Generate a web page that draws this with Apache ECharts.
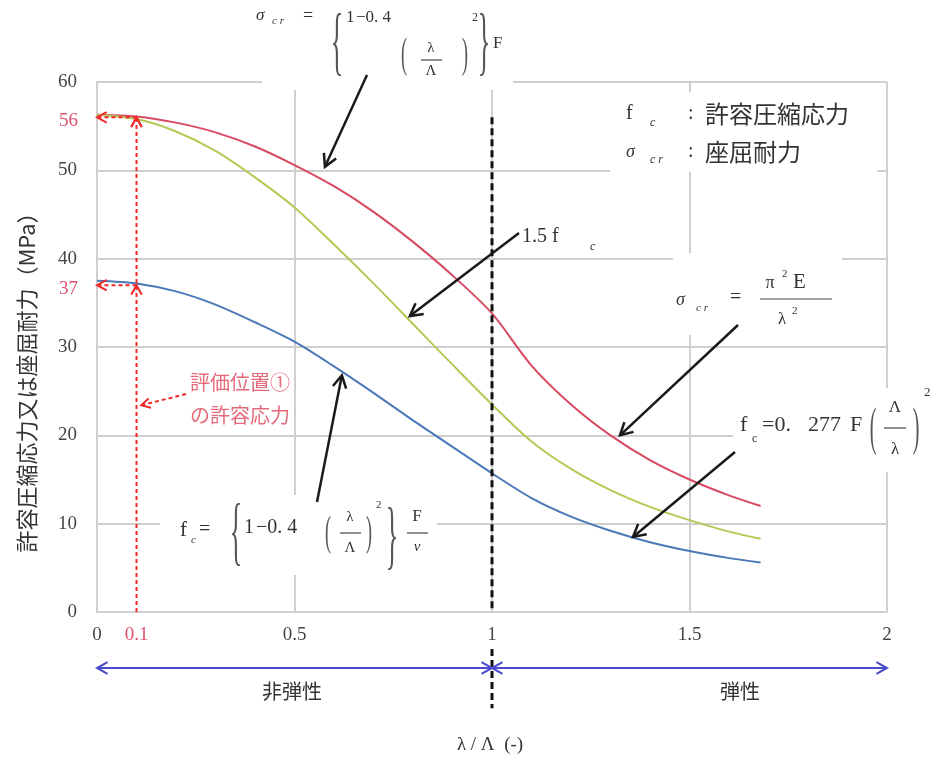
<!DOCTYPE html>
<html>
<head>
<meta charset="utf-8">
<script src="https://cdn.jsdelivr.net/npm/echarts@6/dist/echarts.min.js"></script>
<style>
  html, body { margin: 0; padding: 0; background: #fff; }
  #main { width: 935px; height: 762px; }
</style>
</head>
<body>
<div id="main"></div>
<script>
// λ/Λ and the three curves
var lambdaRatio = [0, 0.1, 0.2, 0.3, 0.4, 0.5, 0.6, 0.7, 0.8, 0.9, 1.0, 1.1, 1.2, 1.3, 1.4, 1.5, 1.6, 1.68];
var sigmaCr = [56.3, 56.1, 55.4, 54.3, 52.7, 50.6, 48.2, 45.3, 41.9, 38.1, 33.8, 27.9, 23.5, 20.0, 17.2, 15.0, 13.2, 12.0];
var fc15 = [56.3, 55.8, 54.4, 52.2, 49.2, 45.8, 41.6, 37.2, 32.6, 28.0, 23.5, 19.3, 16.2, 13.8, 11.9, 10.4, 9.1, 8.3];
var fc = [37.5, 37.2, 36.3, 34.8, 32.8, 30.6, 27.8, 24.8, 21.7, 18.7, 15.7, 12.9, 10.8, 9.2, 7.9, 6.9, 6.1, 5.6];

var xTickLabels = [0, 0.1, 0.5, 1, 1.5, 2];
var evalPoint = 0.1;           // 評価位置①
var evalValues = [56, 37];     // σcr and fc read at λ/Λ = 0.1
var limitRatio = 1;            // 非弾性 / 弾性 border
// arrow tips on the curves [λ/Λ, MPa]
var arrowTips = [[0.577, 50.4], [0.792, 33.5], [0.62, 26.8], [1.324, 20.0], [1.357, 8.5]];

var SERIF = '"Liberation Serif","DejaVu Serif",serif';
var GOTHIC = '"Noto Sans CJK JP","Noto Sans",sans-serif';
var GRID = '#cfcfcf';
var RED_LABEL = '#e0506a';
var RED_DASH = '#ee2b2b';

function pairs(ys) {
  return lambdaRatio.map(function (x, i) { return [x, ys[i]]; });
}

var chart = echarts.init(document.getElementById('main'));

chart.setOption({
  backgroundColor: '#fff',
  animation: false,
  grid: { left: 97, right: 48, top: 82, bottom: 150 },
  xAxis: {
    type: 'value', min: 0, max: 2, interval: 0.5,
    axisLine: { show: true, lineStyle: { color: GRID, width: 2 } },
    axisTick: { show: false },
    splitLine: { show: true, lineStyle: { color: GRID, width: 2 } },
    axisLabel: {
      customValues: xTickLabels,
      margin: 14,
      fontFamily: SERIF, fontSize: 19, color: '#444',
      formatter: function (v) { return v === evalPoint ? '{r|' + v + '}' : String(v); },
      rich: { r: { fontFamily: SERIF, fontSize: 19, color: RED_LABEL } }
    }
  },
  yAxis: {
    type: 'value', min: 0, max: 60, interval: 10,
    axisLine: { show: true, lineStyle: { color: GRID, width: 2 } },
    axisTick: { show: false },
    splitLine: { show: true, lineStyle: { color: GRID, width: 2 } },
    axisLabel: { margin: 20, fontFamily: SERIF, fontSize: 19, color: '#444' }
  },
  series: [
    {
      name: 'σcr', type: 'line', data: pairs(sigmaCr), smooth: 0.3,
      showSymbol: false, lineStyle: { color: '#d84a62', width: 2 }
    },
    {
      name: '1.5fc', type: 'line', data: pairs(fc15), smooth: 0.3,
      showSymbol: false, lineStyle: { color: '#b5c955', width: 2 }
    },
    {
      name: 'fc', type: 'line', data: pairs(fc), smooth: 0.3,
      showSymbol: false, lineStyle: { color: '#4a78b8', width: 2 }
    }
  ]
});

function px(x, y) { return chart.convertToPixel({ gridIndex: 0 }, [x, y]); }

function txt(x, y, s, size, extra) {
  var style = Object.assign({
    text: s, fontSize: size, fontFamily: SERIF, fill: '#333',
    align: 'left', verticalAlign: 'middle'
  }, extra || {});
  var el = { type: 'text', x: x, y: y, z: 40, style: style };
  if (extra && extra.scaleY) { el.scaleY = extra.scaleY; delete style.scaleY; }
  if (extra && extra.rotation) { el.rotation = extra.rotation; delete style.rotation; }
  return el;
}
function box(x1, y1, x2, y2) {
  return { type: 'rect', z: 1, shape: { x: x1, y: y1, width: x2 - x1, height: y2 - y1 }, style: { fill: '#fff' } };
}
function seg(a, b, color, w, dash) {
  return {
    type: 'line', z: 30,
    shape: { x1: a[0], y1: a[1], x2: b[0], y2: b[1] },
    style: { stroke: color, lineWidth: w, lineDash: dash || null }
  };
}
function head(tip, from, len, color, w) {
  var a = Math.atan2(tip[1] - from[1], tip[0] - from[0]);
  var s = 0.5;
  return {
    type: 'polyline', z: 31,
    shape: { points: [
      [tip[0] - len * Math.cos(a - s), tip[1] - len * Math.sin(a - s)], tip,
      [tip[0] - len * Math.cos(a + s), tip[1] - len * Math.sin(a + s)]
    ] },
    style: { stroke: color, lineWidth: w, fill: 'none' }
  };
}
function arrow(from, tip, color, w, len, dash) {
  return [seg(from, tip, color, w, dash), head(tip, from, len, color, w)];
}
function brace(x, y, ch, size, sy) {
  return txt(x, y, ch, size, { align: 'center', fill: '#555', scaleY: sy });
}

var g = [];

// text boxes that hide the grid
g.push(box(262, 0, 513, 90));
g.push(box(610, 92, 877, 172));
g.push(box(515, 215, 612, 256));
g.push(box(673, 253, 842, 335));
g.push(box(733, 388, 935, 472));
g.push(box(160, 495, 437, 575));

// black dashed border line at λ/Λ = 1 (gap around its tick label)
g.push(seg(px(limitRatio, 56), px(limitRatio, 0), '#111', 3, [7, 4]));
g.push(seg(px(limitRatio, -4.2), px(limitRatio, -10.9), '#111', 3, [7, 4]));

// σcr = {1 - 0.4(λ/Λ)^2} F
g.push(txt(256, 16, 'σ', 17, { fontStyle: 'italic' }));
g.push(txt(272, 21, 'c r', 11, { fontStyle: 'italic' }));
g.push(txt(303, 16, '=', 18));
g.push(brace(337, 46, '{', 26, 2.9));
g.push(txt(346, 18, '1', 17));
g.push(txt(356, 18, '−0. 4', 17));
g.push(brace(404, 56, '(', 18, 2.3));
g.push(txt(431, 48, 'λ', 15, { align: 'center' }));
g.push(seg([421, 60], [442, 60], '#444', 1.2));
g.push(txt(431, 71, 'Λ', 15, { align: 'center' }));
g.push(brace(465, 56, ')', 18, 2.3));
g.push(txt(472, 18, '2', 12));
g.push(brace(484, 46, '}', 26, 2.9));
g.push(txt(493, 44, 'F', 17));

// legend text
g.push(txt(626, 114, 'f', 20));
g.push(txt(650, 123, 'c', 12, { fontStyle: 'italic' }));
g.push(txt(688, 114, ':', 20));
g.push(txt(705, 114, '許容圧縮応力', 24, { fontFamily: GOTHIC, fill: '#333' }));
g.push(txt(626, 152, 'σ', 18, { fontStyle: 'italic' }));
g.push(txt(650, 160, 'c r', 12, { fontStyle: 'italic' }));
g.push(txt(688, 152, ':', 20));
g.push(txt(705, 152, '座屈耐力', 24, { fontFamily: GOTHIC, fill: '#333' }));

// 1.5 fc
g.push(txt(522, 237, '1.5 f', 20));
g.push(txt(590, 247, 'c', 12, { fontStyle: 'italic' }));

// σcr = π²E / λ²
g.push(txt(676, 300, 'σ', 18, { fontStyle: 'italic' }));
g.push(txt(696, 308, 'c r', 11, { fontStyle: 'italic' }));
g.push(txt(730, 298, '=', 20));
g.push(txt(770, 283, 'π', 18, { align: 'center' }));
g.push(txt(782, 274, '2', 11));
g.push(txt(793, 282, 'E', 21));
g.push(seg([760, 299], [832, 299], '#444', 1.2));
g.push(txt(782, 320, 'λ', 17, { align: 'center' }));
g.push(txt(792, 311, '2', 11));

// fc = 0.277F (Λ/λ)²
g.push(txt(740, 425, 'f', 22));
g.push(txt(752, 439, 'c', 12));
g.push(txt(762, 425, '=0.', 22));
g.push(txt(808, 425, '277', 22));
g.push(txt(850, 425, 'F', 22));
g.push(brace(873, 430, '(', 20, 2.6));
g.push(txt(895, 408, 'Λ', 17, { align: 'center' }));
g.push(seg([884, 428], [906, 428], '#444', 1.2));
g.push(txt(895, 450, 'λ', 17, { align: 'center' }));
g.push(brace(916, 430, ')', 20, 2.6));
g.push(txt(924, 393, '2', 13));

// fc = {1 - 0.4(λ/Λ)^2} F/ν
g.push(txt(180, 530, 'f', 21));
g.push(txt(191, 540, 'c', 11, { fontStyle: 'italic' }));
g.push(txt(199, 530, '=', 20));
g.push(brace(236, 536, '{', 26, 2.9));
g.push(txt(244, 528, '1', 20));
g.push(txt(256, 528, '−0. 4', 20));
g.push(brace(328, 534, '(', 18, 2.3));
g.push(txt(350, 517, 'λ', 15, { align: 'center' }));
g.push(seg([340, 533], [361, 533], '#444', 1.2));
g.push(txt(350, 548, 'Λ', 15, { align: 'center' }));
g.push(brace(369, 534, ')', 18, 2.3));
g.push(txt(376, 505, '2', 11));
g.push(brace(392, 540, '}', 26, 2.9));
g.push(txt(417, 517, 'F', 17, { align: 'center' }));
g.push(seg([407, 533], [428, 533], '#444', 1.2));
g.push(txt(417, 547, 'ν', 15, { align: 'center', fontStyle: 'italic' }));

// black arrows to the curves
var arrowStarts = [[367, 75], [519, 233], [317, 502], [738, 325], [735, 452]];
arrowStarts.forEach(function (s, i) {
  g.push.apply(g, arrow(s, px(arrowTips[i][0], arrowTips[i][1]), '#1a1a1a', 2.5, 14));
});

// red dashed reading lines at λ/Λ = 0.1
var base = px(evalPoint, 0);
var top56 = px(evalPoint, evalValues[0]);
g.push.apply(g, arrow(base, top56, RED_DASH, 2, 11, [4, 3]));
evalValues.forEach(function (v) {
  var p = px(evalPoint, v);
  g.push(head(p, [p[0], p[1] + 20], 11, RED_DASH, 2));
  g.push.apply(g, arrow(p, px(0, v), RED_DASH, 2, 11, [4, 3]));
  var lab = px(0, v);
  g.push(txt(lab[0] - 19, lab[1] + 4, String(v), 19, { align: 'right', fill: RED_LABEL }));
});
g.push.apply(g, arrow([186, 394], px(evalPoint + 0.012, 23.4), RED_DASH, 2, 10, [4, 3]));
g.push(txt(190, 382, '評価位置①', 20, { fontFamily: GOTHIC, fill: '#e46a7a' }));
g.push(txt(190, 415, 'の許容応力', 20, { fontFamily: GOTHIC, fill: '#e46a7a' }));

// 非弾性 / 弾性 range arrows
var rowY = 668;
var xa = px(0, 0)[0], xb = px(limitRatio, 0)[0], xc = px(2, 0)[0];
[[xa, xb], [xb, xc]].forEach(function (r) {
  g.push(seg([r[0], rowY], [r[1], rowY], '#4a4acc', 2));
  g.push(head([r[0], rowY], [r[1], rowY], 12, '#4a4acc', 2));
  g.push(head([r[1], rowY], [r[0], rowY], 12, '#4a4acc', 2));
});
g.push(txt(292, 691, '非弾性', 20, { fontFamily: GOTHIC, align: 'center', fill: '#333' }));
g.push(txt(740, 691, '弾性', 20, { fontFamily: GOTHIC, align: 'center', fill: '#333' }));

// axis titles
g.push(txt(490, 745, 'λ / Λ  (-)', 19, { align: 'center' }));
g.push(txt(27, 377, '許容圧縮応力又は座屈耐力（MPa）', 22, {
  fontFamily: GOTHIC, align: 'center', fill: '#333', rotation: Math.PI / 2
}));

chart.setOption({ graphic: g });
</script>
</body>
</html>
